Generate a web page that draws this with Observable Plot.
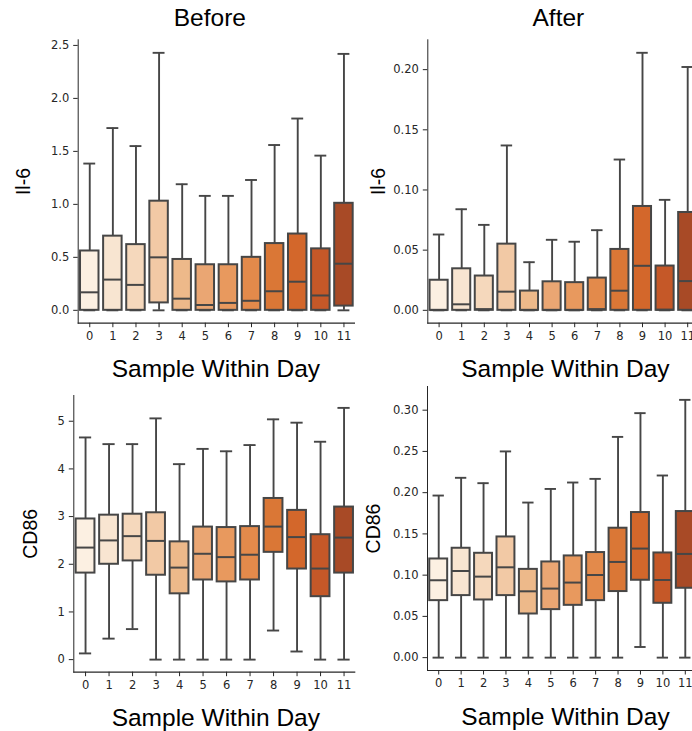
<!DOCTYPE html>
<html>
<head>
<meta charset="utf-8">
<script src="https://cdn.jsdelivr.net/npm/d3@7"></script>
<script src="https://cdn.jsdelivr.net/npm/@observablehq/plot@0.6"></script>
<style>
  html, body { margin: 0; padding: 0; background: #fff; }
  #wrap { position: relative; width: 692px; height: 731px; overflow: hidden; background: #fff; }
  .panel { position: absolute; width: 360px; }
  .panel svg { max-width: none !important; }
</style>
</head>
<body>
<div id="wrap"></div>
<script>
// Categories (sample within day)
const cats = ["0","1","2","3","4","5","6","7","8","9","10","11"];

// Box colours (light to dark oranges)
const palette = ["#fcf0e2","#f8e5d1","#f5d8bc","#f2c9a5","#edb98a","#eaa673",
                 "#e8995e","#e38a4b","#da7736","#d3672b","#c55828","#a84a26"];

// Each row: [min, q1, median, q3, max] per category
const il6Before = [
  [0, 0, 0.17, 0.56, 1.385],
  [0, 0, 0.29, 0.70, 1.72],
  [0, 0, 0.24, 0.62, 1.55],
  [0, 0.07, 0.50, 1.03, 2.43],
  [0, 0, 0.11, 0.48, 1.19],
  [0, 0, 0.05, 0.43, 1.08],
  [0, 0, 0.07, 0.43, 1.08],
  [0, 0, 0.09, 0.50, 1.23],
  [0, 0, 0.18, 0.63, 1.56],
  [0, 0, 0.27, 0.72, 1.81],
  [0, 0, 0.14, 0.58, 1.46],
  [0, 0.04, 0.44, 1.01, 2.42]
];
const il6After = [
  [0, 0, 0.0002, 0.025, 0.063],
  [0, 0, 0.005, 0.0345, 0.084],
  [0, 0, 0.001, 0.0285, 0.071],
  [0, 0, 0.0155, 0.055, 0.137],
  [0, 0, 0.0002, 0.016, 0.040],
  [0, 0, 0.0002, 0.0237, 0.0586],
  [0, 0, 0.0002, 0.023, 0.057],
  [0, 0, 0.001, 0.0268, 0.0666],
  [0, 0, 0.0163, 0.0506, 0.1253],
  [0, 0, 0.037, 0.0863, 0.214],
  [0, 0, 0.0005, 0.0368, 0.0918],
  [0, 0, 0.0243, 0.0813, 0.2022]
];
const cd86Before = [
  [0.13, 1.815, 2.35, 2.95, 4.66],
  [0.44, 2.00, 2.50, 3.03, 4.52],
  [0.64, 2.07, 2.59, 3.05, 4.52],
  [0, 1.77, 2.49, 3.08, 5.06],
  [0, 1.38, 1.93, 2.47, 4.10],
  [0, 1.67, 2.22, 2.78, 4.42],
  [0, 1.63, 2.15, 2.77, 4.37],
  [0, 1.67, 2.20, 2.79, 4.50],
  [0.61, 2.25, 2.79, 3.38, 5.04],
  [0.17, 1.90, 2.57, 3.13, 4.97],
  [0, 1.32, 1.91, 2.62, 4.57],
  [0, 1.815, 2.56, 3.20, 5.28]
];
const cd86After = [
  [0, 0.0691, 0.0938, 0.1196, 0.1965],
  [0, 0.0752, 0.105, 0.1326, 0.218],
  [0, 0.0699, 0.0982, 0.1265, 0.2115],
  [0, 0.0752, 0.1095, 0.1463, 0.250],
  [0, 0.0529, 0.0804, 0.107, 0.188],
  [0, 0.0582, 0.0837, 0.116, 0.2045],
  [0, 0.0634, 0.091, 0.1233, 0.2123],
  [0, 0.0691, 0.1002, 0.1274, 0.2167],
  [0, 0.0801, 0.116, 0.1569, 0.2676],
  [0.0129, 0.0938, 0.1322, 0.1759, 0.2964],
  [0, 0.0659, 0.0941, 0.1269, 0.2208],
  [0, 0.0841, 0.1257, 0.1771, 0.3125]
];

// Tick values
const ticksIl6Before = [0, 0.5, 1.0, 1.5, 2.0, 2.5];
const ticksIl6After = [0, 0.05, 0.10, 0.15, 0.20];
const ticksCd86Before = [0, 1, 2, 3, 4, 5];
const ticksCd86After = [0, 0.05, 0.10, 0.15, 0.20, 0.25, 0.30];

const titleFont = "'Liberation Sans', Arial, sans-serif";
const lineColor = "#464646";

function rows(d) {
  return cats.map((c, i) => ({cat: c, min: d[i][0], q1: d[i][1], med: d[i][2], q3: d[i][3], max: d[i][4]}));
}

function panel(o) {
  const data = rows(o.data);
  const marks = [
    Plot.ruleX(data, {x: "cat", y1: "min", y2: "max", stroke: lineColor, strokeWidth: 1.9}),
    Plot.tickY(data, {x: "cat", y: "max", stroke: lineColor, strokeWidth: 1.9, insetLeft: 3.3, insetRight: 3.3}),
    Plot.tickY(data, {x: "cat", y: "min", stroke: lineColor, strokeWidth: 1.9, insetLeft: 3.3, insetRight: 3.3}),
    Plot.barY(data, {x: "cat", y1: "q1", y2: "q3", fill: "cat", stroke: lineColor, strokeWidth: 2}),
    Plot.tickY(data, {x: "cat", y: "med", stroke: lineColor, strokeWidth: 2}),
    Plot.ruleY([o.domain[0]], {stroke: "#262626", strokeWidth: 1.2}),
    Plot.text(["Sample Within Day"], {frameAnchor: "bottom", lineAnchor: "middle", textAnchor: "middle", dx: o.xlabDx, dy: o.xlabDy, fontSize: 24.5, fontFamily: titleFont, fill: "#000"}),
    Plot.text([o.ylabel], {frameAnchor: "left", lineAnchor: "middle", textAnchor: "middle", rotate: -90, dx: o.ylabDx, fontSize: 19.5, fontFamily: titleFont, fill: "#000"})
  ];
  if (o.title) {
    marks.push(Plot.text([o.title], {frameAnchor: "top", lineAnchor: "middle", textAnchor: "middle", dx: o.titleDx, dy: o.titleDy, fontSize: 24.5, fontFamily: titleFont, fill: "#000"}));
  }
  const svg = Plot.plot({
    width: o.width, height: o.height,
    marginLeft: o.ml, marginRight: o.mr, marginTop: o.mt, marginBottom: o.mb,
    style: {fontFamily: "'DejaVu Sans', sans-serif", fontSize: "11.5px", color: "#262626", background: "transparent", overflow: "visible", maxWidth: "none"},
    x: {type: "band", domain: cats, paddingInner: 0.2, paddingOuter: 0.1, round: false, tickSize: 4.5, tickPadding: 4, label: null},
    y: {domain: o.domain, ticks: o.ticks, tickFormat: o.fmt, tickSize: 4.5, tickPadding: 4.5, label: null, line: true},
    color: {type: "ordinal", domain: cats, range: palette},
    marks
  });
  const div = document.createElement("div");
  div.className = "panel";
  div.style.left = o.left + "px";
  div.style.top = o.top + "px";
  div.appendChild(svg);
  document.getElementById("wrap").appendChild(div);
}

panel({data: il6Before, domain: [-0.1215, 2.553], ticks: ticksIl6Before, fmt: d3.format(".1f"),
  left: 0, top: 0, width: 360, height: 370, ml: 77.7, mr: 5, mt: 39.3, mb: 47.3,
  title: "Before", titleDx: -7, titleDy: -21.5, xlabDx: -1, xlabDy: 45.5, ylabel: "Il-6", ylabDx: -54.7});
panel({data: il6After, domain: [-0.0107, 0.2248], ticks: ticksIl6After, fmt: d3.format(".2f"),
  left: 346, top: 0, width: 360, height: 370, ml: 81.3, mr: 7.5, mt: 39.3, mb: 47.3,
  title: "After", titleDx: -5, titleDy: -21.5, xlabDx: 2, xlabDy: 45.5, ylabel: "Il-6", ylabDx: -49.3});
panel({data: cd86Before, domain: [-0.264, 5.54], ticks: ticksCd86Before, fmt: d3.format("d"),
  left: 0, top: 370, width: 360, height: 361, ml: 73.3, mr: 4.7, mt: 25, mb: 59.3,
  xlabDx: 1, xlabDy: 45.5, ylabel: "CD86", ylabDx: -43.3});
panel({data: cd86After, domain: [-0.0156, 0.3287], ticks: ticksCd86After, fmt: d3.format(".2f"),
  left: 346, top: 370, width: 360, height: 361, ml: 81, mr: 10, mt: 16, mb: 61,
  xlabDx: 3.5, xlabDy: 47, ylabel: "CD86", ylabDx: -54});
</script>
</body>
</html>
